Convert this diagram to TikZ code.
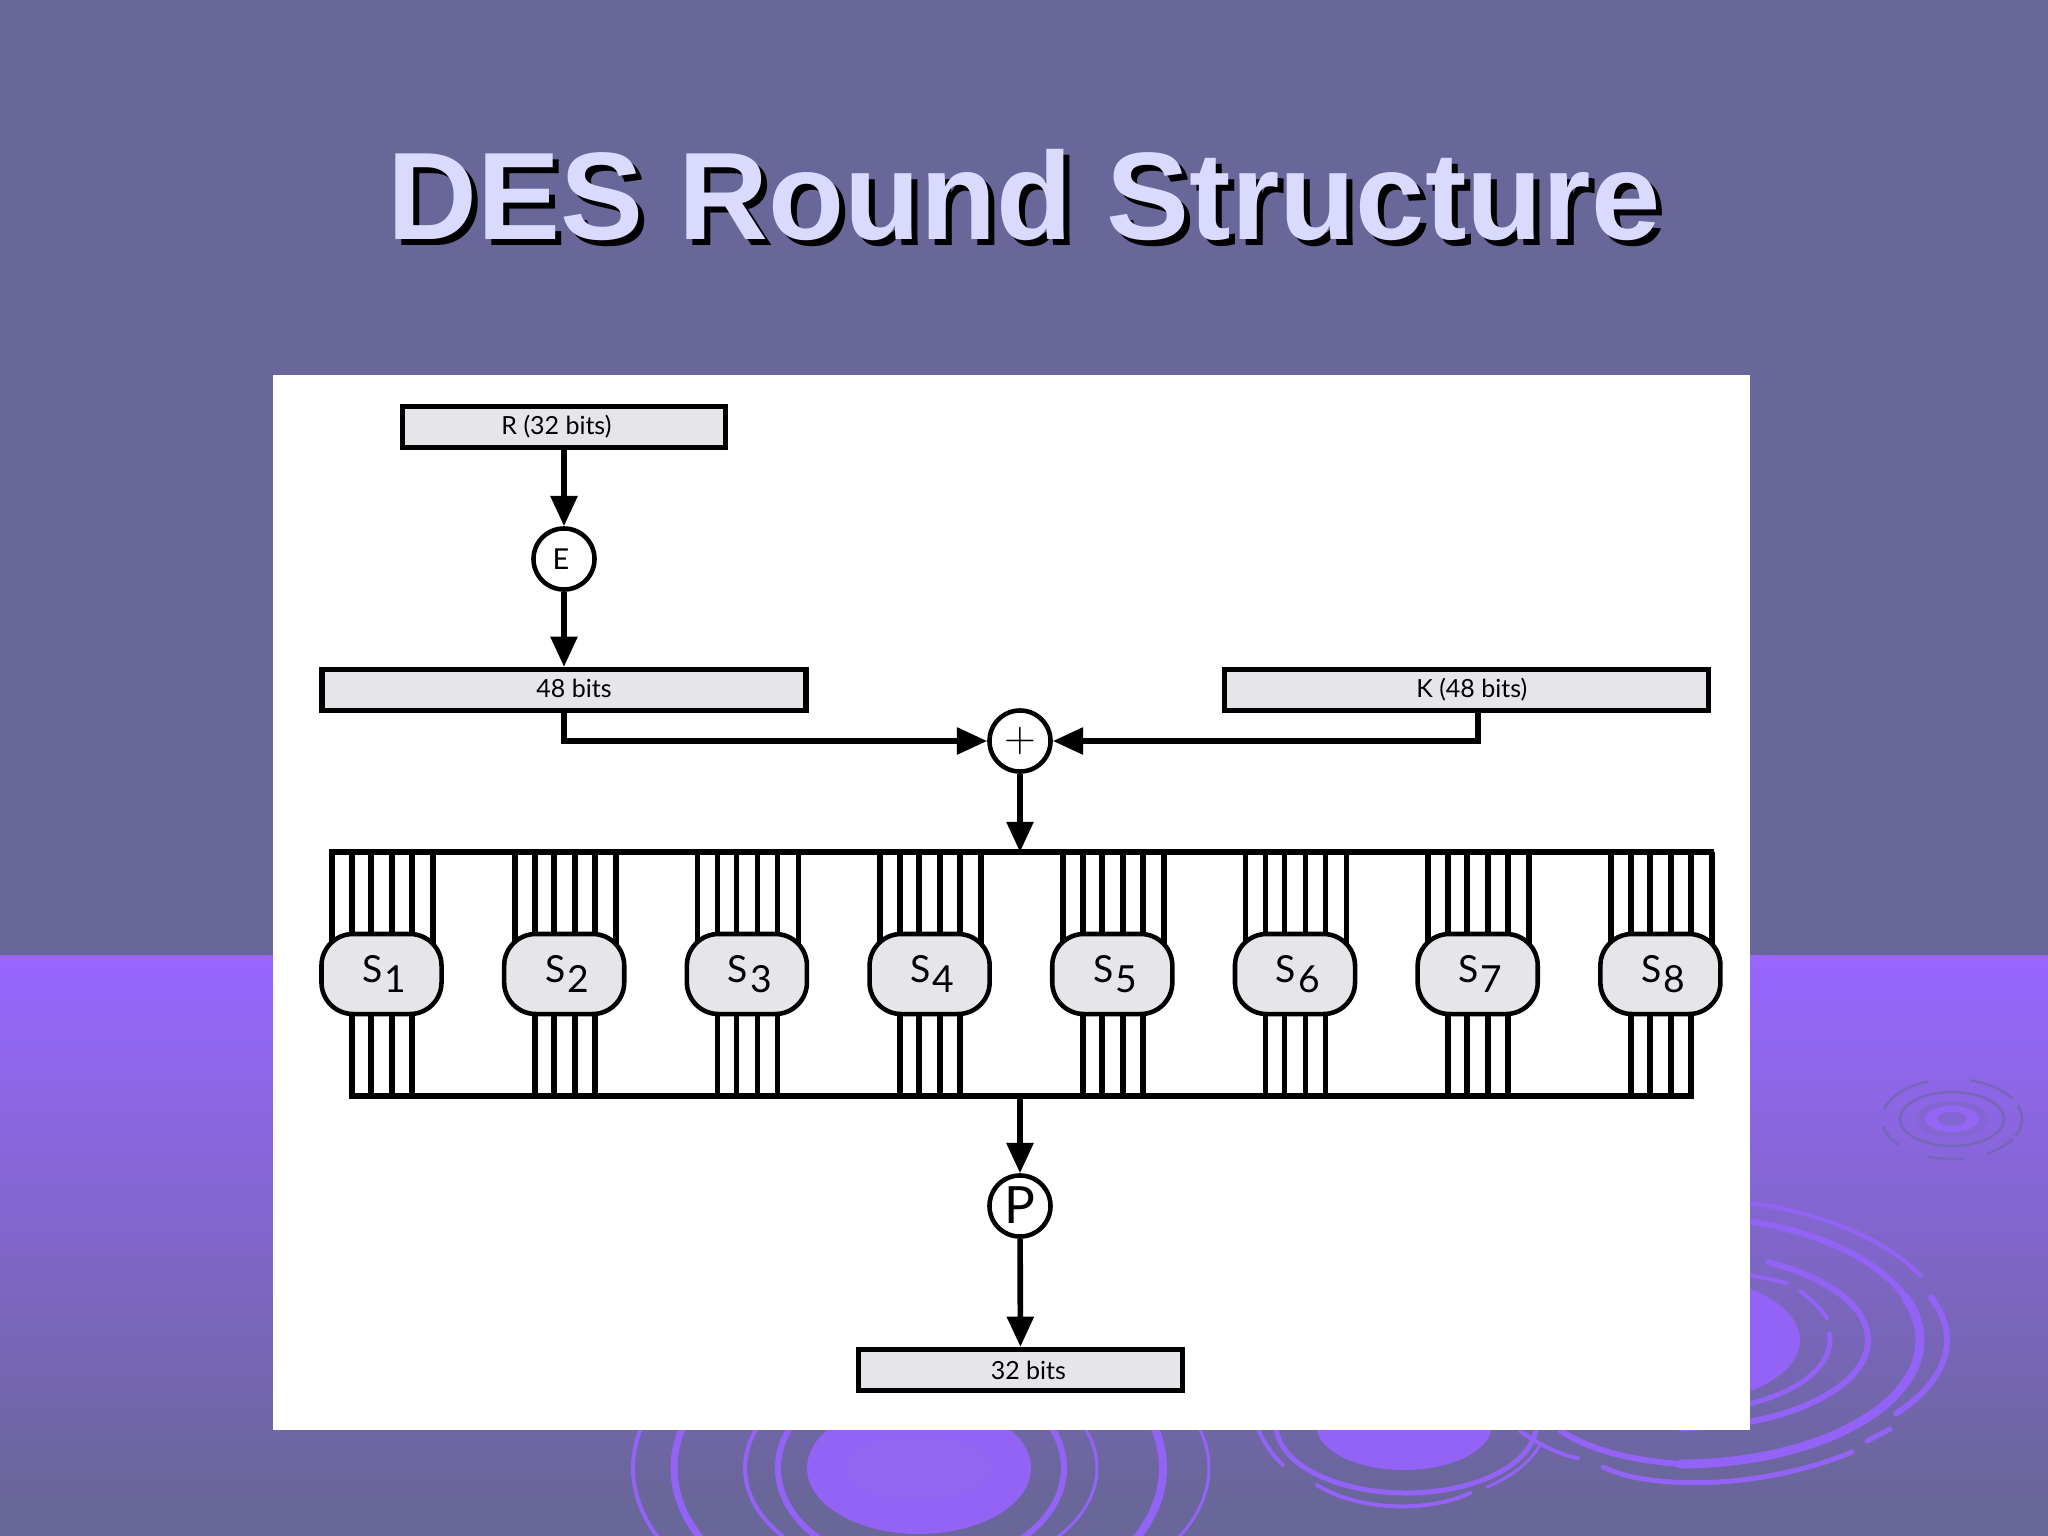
\documentclass[tikz,border=0pt]{standalone}
\usepackage{fontspec}
\setmainfont{Liberation Sans}
\newfontfamily\diagfont{Lato}
\usetikzlibrary{arrows.meta,calc}
\definecolor{bandtop}{HTML}{696699}
\definecolor{bandlo}{HTML}{9966FF}
\definecolor{ripple}{HTML}{9363F5}
\definecolor{titlecol}{HTML}{DADAFF}
\definecolor{boxfill}{HTML}{E6E5E9}
\tikzset{
  x=0.01cm,y=-0.01cm,
  wire/.style={line width=1.6pt,black},
  flow/.style={wire,-{Triangle[length=8.6pt,width=7.4pt]}},
  databox/.style={draw=black,line width=1.5pt,fill=boxfill,minimum width=#1*0.01cm,minimum height=0.41cm,inner sep=0pt,font=\diagfont\fontsize{7.1}{9}\selectfont},
  opcircle/.style={circle,draw=black,line width=1.3pt,fill=white,minimum size=0.61cm,inner sep=0pt},
  sbox/.style={draw=black,line width=1.3pt,fill=boxfill,rounded corners=9pt,minimum width=1.2cm,minimum height=0.8cm,inner sep=0pt,font=\diagfont\fontsize{10.6}{12}\selectfont},
  ring/.style={line width=#1*0.2845pt,ripple,line cap=round},
  shadowtext/.style={font=\bfseries\fontsize{35.4}{40}\selectfont}
}
\newcommand{\arcseg}[7]{\draw[ring=#7] plot[domain=#5:#6,samples=40,smooth] ({#1+#3*cos(\x)},{#2+#4*sin(\x)});}
\begin{document}
\begin{tikzpicture}
\useasboundingbox (0,0) rectangle (2048,1536);
\fill[bandtop] (0,0) rectangle (2048,956);
\shade[top color=bandlo,bottom color=bandtop] (0,955) rectangle (2048,1500);
\fill[bandtop] (0,1499) rectangle (2048,1536);
% small ripple, upper right
\foreach \ra/\rb/\sa/\sb in {70/40/195/250, 70/40/285/330, 70/40/340/385, 70/40/30/60, 70/40/80/110, 70/40/140/170, 52/27/0/360}{
  \draw[line width=0.7pt,color=bandtop!70!bandlo] plot[domain=\sa:\sb,samples=30,smooth] ({1952+\ra*cos(\x)},{1119+\rb*sin(\x)});
}
\fill[bandtop!45!bandlo] (1952,1119) ellipse [x radius=36,y radius=18];
\fill[bandlo!90!bandtop] (1952,1119) ellipse [x radius=27,y radius=13];
\fill[bandtop!45!bandlo] (1952,1119) ellipse [x radius=15,y radius=7];
% large ripple, lower right
\fill[ripple] (1680,1340) ellipse [x radius=120,y radius=63];
\arcseg{1680}{1340}{150}{72}{-5}{90}{5}
\arcseg{1680}{1340}{188}{88}{-62}{90}{6}
\arcseg{1680}{1340}{240}{124}{-95}{-20}{6}
\arcseg{1680}{1340}{240}{124}{-20}{90}{9}
\arcseg{1680}{1340}{270}{142}{-105}{-27}{4}
\arcseg{1680}{1340}{267}{125}{-20}{36}{6}
\draw[ring=6] (1680,1464) .. controls (1630,1460) and (1590,1450) .. (1561,1431);
\draw[ring=4] (1520,1431) .. controls (1540,1445) and (1560,1455) .. (1578,1458);
\draw[ring=5] (1603,1467) .. controls (1650,1490) and (1760,1490) .. (1852,1452);
\draw[ring=5] (1867,1441) -- (1890,1429);
\draw[ring=4] (1750,1275) -- (1787,1283);
\draw[ring=4] (1800,1291) .. controls (1810,1298) and (1820,1308) .. (1827,1318);
% bottom-centre ripple
\fill[ripple] (919,1468) ellipse [x radius=112,y radius=66];
\fill[bandlo!85!bandtop] (919,1468) ellipse [x radius=72,y radius=32];
\arcseg{919}{1468}{286}{170}{100}{250}{4}
\arcseg{919}{1468}{245}{155}{100}{250}{7}
\arcseg{919}{1468}{174}{110}{100}{250}{4}
\arcseg{919}{1468}{141}{100}{100}{250}{6}
\arcseg{919}{1468}{145}{100}{-80}{80}{6}
\arcseg{919}{1468}{178}{110}{-80}{50}{3}
\arcseg{919}{1468}{244}{155}{-80}{80}{8}
\arcseg{919}{1468}{290}{156}{-80}{80}{3}
% bottom-right-centre ripple
\fill[ripple] (1404,1425) ellipse [x radius=88,y radius=45];
\arcseg{1406}{1425}{130}{68}{0}{180}{5}
\draw[ring=4] (1259,1431) .. controls (1265,1445) and (1275,1458) .. (1283,1465);
\draw[ring=4] (1317,1485) .. controls (1360,1512) and (1430,1512) .. (1470,1493);
\draw[ring=3] (1487,1487) .. controls (1515,1475) and (1532,1460) .. (1541,1443);
% white panel
\fill[white] (273,375) rectangle (1750,1430);
% title
\node[shadowtext,text=black] (titleshadow) at (1030,201) {DES Round Structure};
\node[shadowtext,text=titlecol] (title) at (1024,195) {DES Round Structure};
% bus coordinates
\coordinate (topbus) at (1020,852);
\coordinate (botbus) at (1020,1096);
\draw[wire,line cap=rect] (332,852) -- (1711,852);
\draw[wire,line cap=rect] (352,1096) -- (1691,1096);
% S-boxes
\foreach \i in {1,...,8}{
  \pgfmathsetmacro{\ox}{(\i-1)*182.7}
  \foreach \d in {332,352,371,392,412,433}{
    \coordinate (t) at ({\d+\ox},974);
    \draw[wire] (t |- topbus) -- (t);
  }
  \foreach \d in {352,371,392,412}{
    \coordinate (b) at ({\d+\ox},974);
    \draw[wire] (b) -- (b |- botbus);
  }
  \node[sbox] (s\i) at ({381.5+\ox},974) {\hspace{1.6pt}S\hspace{0.6pt}\raisebox{-2.8pt}{\i}};
}
% data boxes
\node[databox=323] (r) at (564,427) {\hspace{-4.3pt}\raisebox{-0.8pt}{R (32 bits)}};
\node[databox=484] (e48) at (564,690) {\hspace{5.7pt}\raisebox{0.8pt}{48 bits}};
\node[databox=484] (k) at (1466.5,690) {\hspace{3pt}\raisebox{-0.6pt}{K (48 bits)}};
\node[databox=324] (o32) at (1020.5,1370) {\hspace{4.5pt}32 bits};
% operators
\node[opcircle,font=\diagfont\fontsize{8.2}{10}\selectfont] (ee) at (564,559) {\hspace{-1.7pt}E};
\node[opcircle,font=\fontsize{12}{14}\selectfont] (xor) at (1020,741) {$+$};
\node[opcircle,font=\diagfont\fontsize{14.6}{16}\selectfont] (pp) at (1020,1206) {\raisebox{0.8pt}{P}};
% connectors
\coordinate (kdrop) at (1478,712);
\draw[flow] (r) -- (ee);
\draw[flow] (ee) -- (ee |- e48.north);
\draw[flow] (ee |- e48.south) |- (xor);
\draw[flow] (kdrop) |- (xor);
\draw[flow] (xor) -- (topbus);
\draw[flow] (botbus) -- (pp);
\draw[flow] (pp) -- (o32);
\end{tikzpicture}
\end{document}
